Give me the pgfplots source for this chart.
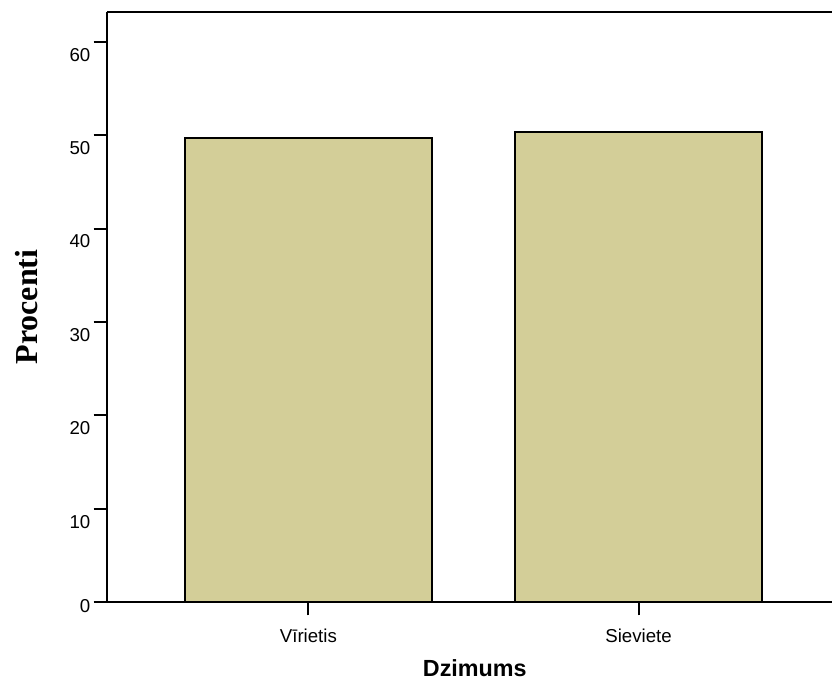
\documentclass[border=0pt]{standalone}
\usepackage{pgfplots}
\pgfplotsset{compat=1.18}
\usepackage{fontspec}
\setmainfont{Liberation Sans}
\newfontfamily\serifbold{Liberation Serif}[BoldFont={Liberation Serif Bold}]
\definecolor{barfill}{RGB}{211,206,152}
\begin{document}
\begin{tikzpicture}
\useasboundingbox (0,0) rectangle (624.75pt,511.5pt);
\begin{axis}[
  at={(80.25pt,60pt)}, anchor=south west,
  scale only axis, width=543.75pt, height=442.5pt,
  xmin=-0.61, xmax=1.586, ymin=0, ymax=63.2,
  axis x line*=bottom, axis y line*=left,
  axis line style={line width=1.5pt, -},
  clip=false,
  ybar, bar width=185.25pt,
  ytick={10,20,30,40,50,60},
  extra y ticks={0},
  extra y tick style={yticklabel style={yshift=6.5pt}},
  xtick={0,1}, xticklabels={Vīrietis, Sieviete},
  tick style={black, line width=1.5pt},
  major tick length=10pt,
  tick align=outside,
  /pgf/number format/assume math mode=true,
  ticklabel style={font=\fontsize{14}{16}\selectfont},
  yticklabel style={anchor=east, yshift=-9.75pt, xshift=1pt},
  xticklabel style={anchor=north, yshift=-7pt},
]
\addplot[fill=barfill, draw=black, line width=1.5pt] coordinates {(0,49.7) (1,50.3)};
\draw[line width=1.5pt] (rel axis cs:0,1) -- (rel axis cs:1,1);
\node[inner sep=0pt, font=\fontsize{17.5}{20}\selectfont\bfseries] at ([yshift=-49.5pt, xshift=4pt]rel axis cs:0.5,0) {Dzimums};
\node[rotate=90, font=\fontsize{24}{26}\selectfont\serifbold\bfseries] at ([xshift=-60pt]rel axis cs:0,0.5) {Procenti};
\end{axis}
\end{tikzpicture}
\end{document}
